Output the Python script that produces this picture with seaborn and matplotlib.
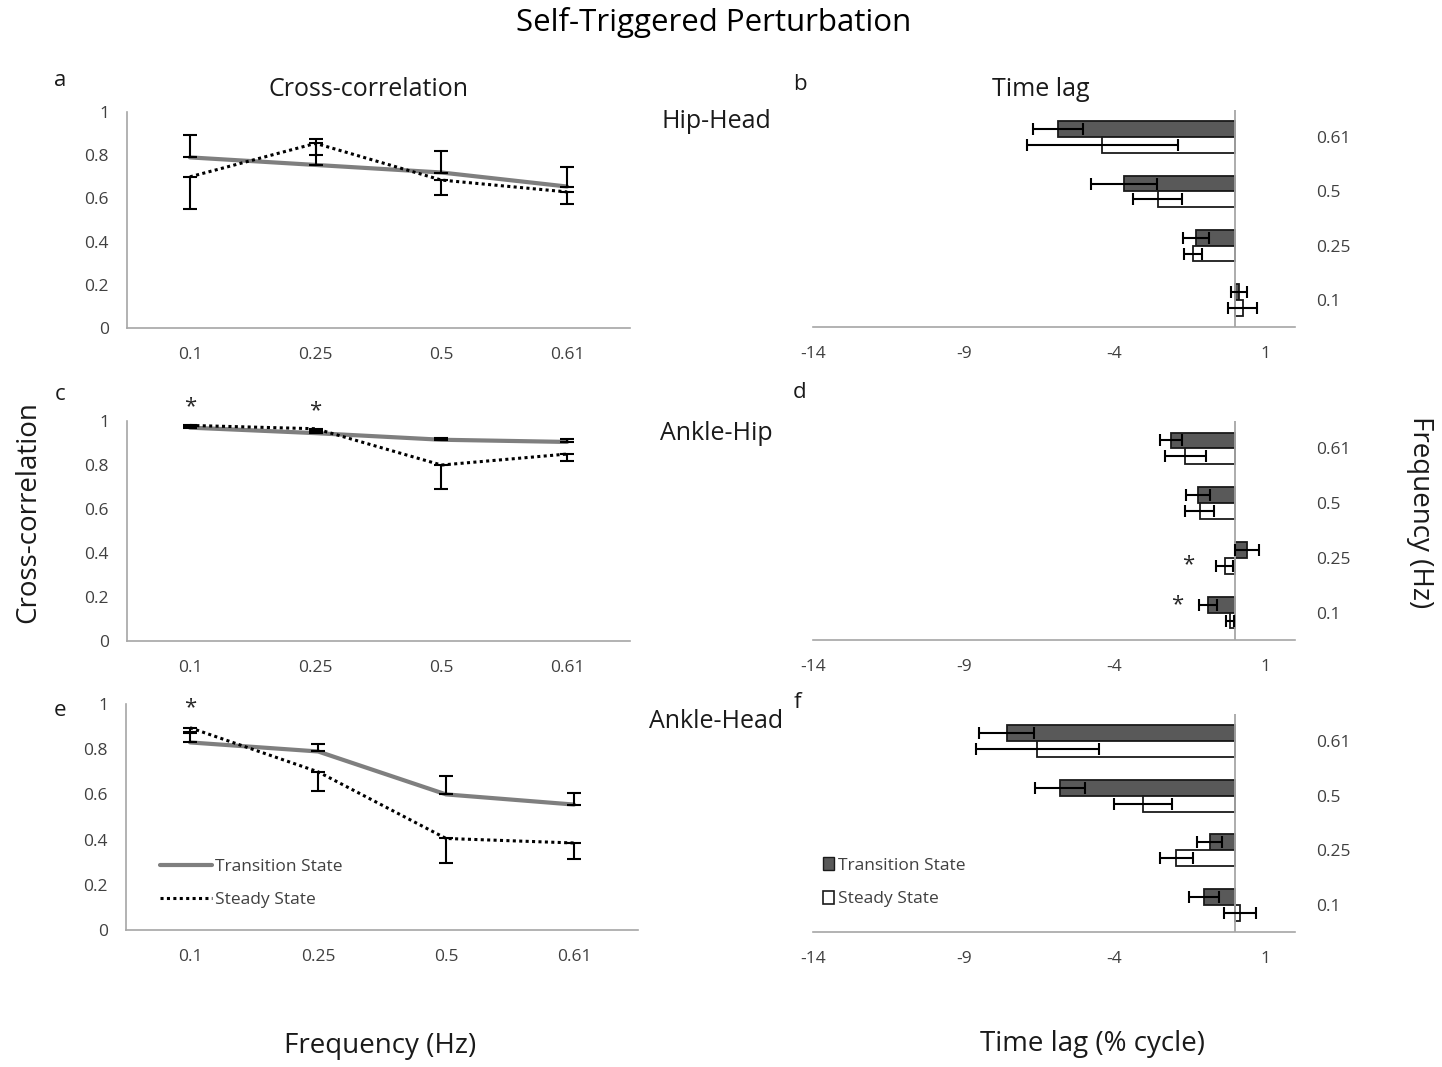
import numpy as np
import pandas as pd
import matplotlib
matplotlib.use('Agg')
import matplotlib.pyplot as plt
import seaborn as sns
from matplotlib.patches import Patch
from matplotlib.lines import Line2D

# ---------------- data ----------------
freqs = ['0.1', '0.25', '0.5', '0.61']
states = ['Transition State', 'Steady State']
cc_ticks = ['0', '0.2', '0.4', '0.6', '0.8', '1']
lag_ticks = ['-14', '-9', '-4', '1']

# cross-correlation (panels a, c, e)
hiphead_cc_trans = [0.79, 0.755, 0.72, 0.655]
hiphead_cc_steady = [0.70, 0.855, 0.685, 0.63]
hiphead_cc_trans_err = [0.105, 0.12, 0.10, 0.09]
hiphead_cc_steady_err = [0.15, 0.055, 0.07, 0.055]

anklehip_cc_trans = [0.97, 0.945, 0.915, 0.905]
anklehip_cc_steady = [0.98, 0.965, 0.80, 0.85]
anklehip_cc_trans_err = [0.005, 0.005, 0.01, 0.015]
anklehip_cc_steady_err = [0.005, 0.005, 0.11, 0.03]

anklehead_cc_trans = [0.83, 0.79, 0.60, 0.555]
anklehead_cc_steady = [0.895, 0.70, 0.405, 0.385]
anklehead_cc_trans_err = [0.04, 0.035, 0.08, 0.05]
anklehead_cc_steady_err = [0.02, 0.085, 0.11, 0.07]

# time lag (% cycle) (panels b, d, f)
hiphead_lag_trans = [0.14, -1.29, -3.67, -5.87]
hiphead_lag_steady = [0.26, -1.38, -2.56, -4.40]
hiphead_lag_trans_err = [0.28, 0.44, 1.1, 0.82]
hiphead_lag_steady_err = [0.47, 0.30, 0.82, 2.5]

anklehip_lag_trans = [-0.90, 0.40, -1.23, -2.12]
anklehip_lag_steady = [-0.15, -0.33, -1.17, -1.64]
anklehip_lag_trans_err = [0.30, 0.40, 0.40, 0.37]
anklehip_lag_steady_err = [0.13, 0.28, 0.48, 0.67]

anklehead_lag_trans = [-1.02, -0.83, -5.79, -7.57]
anklehead_lag_steady = [0.17, -1.94, -3.04, -6.55]
anklehead_lag_trans_err = [0.50, 0.42, 0.83, 0.92]
anklehead_lag_steady_err = [0.52, 0.55, 0.97, 2.05]

# ---------------- style ----------------
sns.set_theme(style='white')
plt.rcParams['font.family'] = ['Open Sans', 'DejaVu Sans']

TICK_COLOR = '#404040'
SPINE_COLOR = '#a6a6a6'
DARK = '#595959'
TICK_SIZE = 12.5

fig = plt.figure(figsize=(14.42, 10.67), dpi=100)


def line_panel(rect, trans, steady, terr, serr):
    ax = fig.add_axes(rect)
    pos = list(range(len(freqs)))
    df = pd.DataFrame({'pos': pos * 2, 'cc': trans + steady,
                       'state': [states[0]] * 4 + [states[1]] * 4})
    sns.lineplot(data=df[df.state == states[0]], x='pos', y='cc',
                 color='#7f7f7f', linewidth=3, ax=ax)
    sns.lineplot(data=df[df.state == states[1]], x='pos', y='cc',
                 color='black', linewidth=2.2, ax=ax)
    ax.lines[-1].set_linestyle((0, (1, 1.1)))
    ax.errorbar(pos, trans, yerr=[np.zeros(4), terr], fmt='none',
                ecolor='black', elinewidth=1.5, capsize=5, capthick=1.5, zorder=4)
    ax.errorbar(pos, steady, yerr=[serr, np.zeros(4)], fmt='none',
                ecolor='black', elinewidth=1.5, capsize=5, capthick=1.5, zorder=4)
    ax.set_xlim(-0.5, 3.5)
    ax.set_ylim(0, 1)
    ax.set_xticks(pos)
    ax.set_xticklabels(freqs)
    ax.set_yticks([0, 0.2, 0.4, 0.6, 0.8, 1.0])
    ax.set_yticklabels(cc_ticks)
    ax.set_xlabel('')
    ax.set_ylabel('')
    for s in ['top', 'right']:
        ax.spines[s].set_visible(False)
    for s in ['left', 'bottom']:
        ax.spines[s].set_color(SPINE_COLOR)
        ax.spines[s].set_linewidth(1.2)
    ax.tick_params(axis='x', length=0, pad=14, labelsize=TICK_SIZE, labelcolor=TICK_COLOR)
    ax.tick_params(axis='y', length=0, pad=13, labelsize=TICK_SIZE, labelcolor=TICK_COLOR)
    return ax


def bar_panel(rect, trans, steady, terr, serr):
    ax = fig.add_axes(rect)
    order = freqs[::-1]
    df = pd.DataFrame({'freq': freqs * 2, 'lag': trans + steady,
                       'state': [states[0]] * 4 + [states[1]] * 4})
    sns.barplot(data=df, y='freq', x='lag', hue='state', order=order,
                hue_order=states, orient='h',
                palette={states[0]: DARK, states[1]: 'white'},
                saturation=1, edgecolor='#1a1a1a', linewidth=1.3,
                width=0.58, gap=0, errorbar=None, legend=False, ax=ax)
    for k, (vals, errs) in enumerate([(trans, terr), (steady, serr)]):
        off = -0.145 if k == 0 else 0.145
        ypos = [order.index(f) + off for f in freqs]
        ax.errorbar(vals, ypos, xerr=errs, fmt='none', ecolor='black',
                    elinewidth=1.5, capsize=4, capthick=1.5, zorder=4)
    ax.axvline(0, color=SPINE_COLOR, lw=1.3, zorder=3)
    ax.set_xlim(-14, 2)
    ax.set_xticks([-14, -9, -4, 1])
    ax.set_xticklabels(lag_ticks)
    ax.set_ylim(3.5, -0.5)
    ax.yaxis.tick_right()
    ax.set_xlabel('')
    ax.set_ylabel('')
    for s in ['top', 'right', 'left']:
        ax.spines[s].set_visible(False)
    ax.spines['bottom'].set_color(SPINE_COLOR)
    ax.spines['bottom'].set_linewidth(1.2)
    ax.tick_params(axis='x', length=0, pad=14, labelsize=TICK_SIZE, labelcolor=TICK_COLOR)
    ax.tick_params(axis='y', length=0, pad=15, labelsize=TICK_SIZE, labelcolor=TICK_COLOR)
    return ax


ax_a = line_panel([0.0881, 0.6926, 0.3488, 0.2024], hiphead_cc_trans, hiphead_cc_steady,
                  hiphead_cc_trans_err, hiphead_cc_steady_err)
ax_c = line_panel([0.0881, 0.3992, 0.3488, 0.2062], anklehip_cc_trans, anklehip_cc_steady,
                  anklehip_cc_trans_err, anklehip_cc_steady_err)
ax_e = line_panel([0.0874, 0.1284, 0.3551, 0.2118], anklehead_cc_trans, anklehead_cc_steady,
                  anklehead_cc_trans_err, anklehead_cc_steady_err)

ax_b = bar_panel([0.5638, 0.6935, 0.3343, 0.2034], hiphead_lag_trans, hiphead_lag_steady,
                 hiphead_lag_trans_err, hiphead_lag_steady_err)
ax_d = bar_panel([0.5638, 0.4002, 0.3343, 0.2052], anklehip_lag_trans, anklehip_lag_steady,
                 anklehip_lag_trans_err, anklehip_lag_steady_err)
ax_f = bar_panel([0.5638, 0.1265, 0.3343, 0.2043], anklehead_lag_trans, anklehead_lag_steady,
                 anklehead_lag_trans_err, anklehead_lag_steady_err)

# significance stars
star_kw = dict(ha='center', va='center', fontsize=16, color='#262626', clip_on=False)
ax_c.text(0, 1.065, '*', **star_kw)
ax_c.text(1, 1.045, '*', **star_kw)
ax_e.text(0, 0.985, '*', **star_kw)
ax_d.text(-1.55, 2.12, '*', **star_kw)
ax_d.text(-1.9, 3.0 - 0.14, '*', **star_kw)

# legends
ax_e.legend(handles=[Line2D([], [], color='#7f7f7f', lw=3),
                     Line2D([], [], color='black', lw=2.2, ls=(0, (1, 1.1)))],
            labels=states, loc='upper left', bbox_to_anchor=(0.035, 0.385),
            frameon=False, fontsize=12.5, handlelength=3.0, handletextpad=0.2,
            labelspacing=1.0, labelcolor=TICK_COLOR)
ax_f.legend(handles=[Patch(facecolor=DARK, edgecolor='#1a1a1a', lw=1),
                     Patch(facecolor='white', edgecolor='#1a1a1a', lw=1.2)],
            labels=states, loc='upper left', bbox_to_anchor=(-0.012, 0.415),
            frameon=False, fontsize=12.5, handlelength=0.65, handleheight=0.75,
            handletextpad=0.2, labelspacing=1.0, labelcolor=TICK_COLOR)

# figure texts
W, H = 1442, 1067


def ftext(x, y, s, **kw):
    fig.text(x / W, 1 - y / H, s, ha=kw.pop('ha', 'center'), va=kw.pop('va', 'center'), **kw)


ftext(714, 22, 'Self-Triggered Perturbation', fontsize=22.5, color='black')
ftext(368, 90, 'Cross-correlation', fontsize=18, color='#1a1a1a')
ftext(1041, 90, 'Time lag', fontsize=18, color='#1a1a1a')
ftext(716, 122, 'Hip-Head', fontsize=18, color='#1a1a1a')
ftext(716, 434, 'Ankle-Hip', fontsize=18, color='#1a1a1a')
ftext(716, 722, 'Ankle-Head', fontsize=18, color='#1a1a1a')
for letter, (x, y) in {'a': (60, 80), 'b': (800, 85), 'c': (60, 395),
                       'd': (800, 393), 'e': (60, 710), 'f': (797, 703)}.items():
    ftext(x, y, letter, fontsize=16, color='#1a1a1a')
ftext(28, 512, 'Cross-correlation', fontsize=20, rotation=90, color='#1a1a1a')
ftext(1420, 512, 'Frequency (Hz)', fontsize=20, rotation=-90, color='#1a1a1a')
ftext(380, 1046, 'Frequency (Hz)', fontsize=20, color='#1a1a1a')
ftext(1092, 1044, 'Time lag (% cycle)', fontsize=20, color='#1a1a1a')

fig.savefig('out.png', dpi=100, facecolor='white')
